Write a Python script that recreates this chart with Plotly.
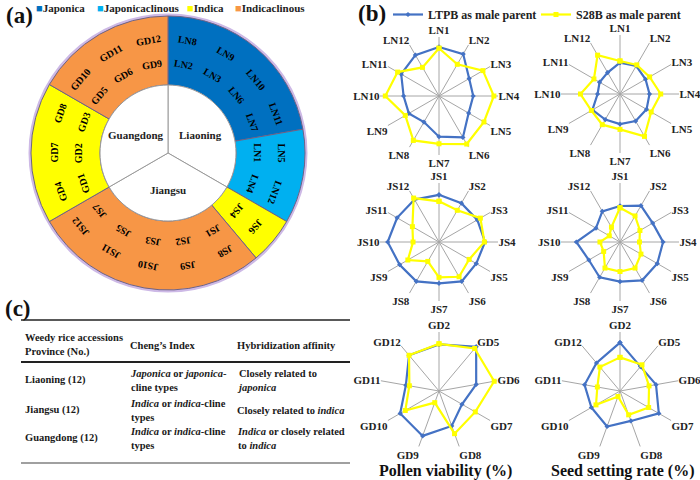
import math
import plotly.graph_objects as go

FONT = "Liberation Serif"
W, H = 700, 480

# ---------------- Panel (a) data ----------------
ring_types = ["Japonica", "Japonicaclinous", "Indica", "Indicaclinous", "Indica", "Indicaclinous"]
ring_counts = [8, 4, 2, 10, 6, 6]
ring_inner_labels = [["LN2", "LN3", "LN6", "LN7"], ["LN1", "LN4"], ["JS4"],
                     ["JS1", "JS2", "JS3", "JS5", "JS7"], ["GD1", "GD2", "GD3"], ["GD5", "GD6", "GD9"]]
ring_outer_labels = [["LN8", "LN9", "LN10", "LN11"], ["LN5", "LN12"], ["JS6"],
                     ["JS8", "JS9", "JS10", "JS11", "JS12"], ["GD4", "GD7", "GD8"], ["GD10", "GD11", "GD12"]]
legend_types = ["Japonica", "Japonicaclinous", "Indica", "Indicaclinous"]
type_colors = ["#0070C0", "#00B0F0", "#FFFF00", "#F79646"]
provinces = ["Liaoning", "Jiangsu", "Guangdong"]
province_counts = [12, 12, 12]

# ---------------- Panel (b) data ----------------
ln_axes = ["LN1", "LN2", "LN3", "LN4", "LN5", "LN6", "LN7", "LN8", "LN9", "LN10", "LN11", "LN12"]
js_axes = ["JS1", "JS2", "JS3", "JS4", "JS5", "JS6", "JS7", "JS8", "JS9", "JS10", "JS11", "JS12"]
gd_axes = ["GD2", "GD5", "GD6", "GD7", "GD8", "GD9", "GD10", "GD11", "GD12"]

pollen_ln_ltpb = [83, 82, 59, 58, 58, 81, 69, 51, 59, 60, 74, 80]
pollen_ln_s28b = [81, 62, 86, 93, 88, 94, 81, 87, 66, 91, 81, 56]
seed_ln_ltpb = [53, 55, 50, 50, 52, 53, 51, 50, 54, 38, 40, 42]
seed_ln_s28b = [56, 57, 58, 69, 61, 83, 60, 60, 56, 67, 51, 76]
pollen_js_ltpb = [80, 76, 75, 78, 73, 77, 70, 77, 77, 87, 82, 83]
pollen_js_s28b = [69, 62, 81, 77, 59, 68, 60, 38, 61, 44, 52, 86]
seed_js_ltpb = [61, 71, 64, 73, 73, 75, 67, 69, 61, 74, 47, 60]
seed_js_s28b = [58, 51, 39, 33, 41, 51, 50, 51, 32, 34, 21, 29]
pollen_gd_ltpb = [79, 98, 64, 45, 63, 81, 76, 57, 79]
pollen_gd_s28b = [80, 94, 95, 71, 77, 21, 66, 51, 79]
seed_gd_ltpb = [82, 54, 62, 76, 54, 64, 56, 61, 62]
seed_gd_s28b = [57, 58, 50, 56, 43, 10, 47, 39, 53]

series_names = ["LTPB as male parent", "S28B as male parent"]
series_colors = ["#4472C4", "#FFFF00"]
bottom_titles = ["Pollen viability (%)", "Seed setting rate (%)"]

# ---------------- Panel (c) data ----------------
table_header = ["Weedy rice accessions<br>Province (No.)", "Cheng’s Index", "Hybridization affinity"]
table_rows = [
    ["Liaoning (12)", "<i>Japonica</i> or <i>japonica</i>-<br>cline types", "Closely related to<br><i>japonica</i>"],
    ["Jiangsu (12)", "<i>Indica</i> or <i>indica</i>-cline<br>types", "Closely related to <i>indica</i>"],
    ["Guangdong (12)", "<i>Indica</i> or <i>indica</i>-cline<br>types", "<i>Indica</i> or closely related<br>to <i>indica</i>"],
]


def px_x(p):
    return p / W


def px_y(p):
    return 1 - p / H


fig = go.Figure()
annotations = []
shapes = []

# ---------------- Panel (a) ----------------
cx, cy, R = 168, 153, 137
r_in = 68
color_of = dict(zip(legend_types, type_colors))

shapes.append(dict(type="circle", xref="paper", yref="paper", layer="below",
                   x0=px_x(cx - R - 1), x1=px_x(cx + R + 1), y0=px_y(cy + R + 1), y1=px_y(cy - R - 1),
                   line=dict(color="#cdb9e6", width=3)))

fig.add_trace(go.Pie(
    values=ring_counts, labels=[f"{t}-{i}" for i, t in enumerate(ring_types)],
    marker=dict(colors=[color_of[t] for t in ring_types], line=dict(color="#6d6286", width=1)),
    hole=r_in / R, sort=False, direction="clockwise", rotation=0, textinfo="none",
    hoverinfo="skip", showlegend=False,
    domain=dict(x=[px_x(cx - R), px_x(cx + R)], y=[px_y(cy + R), px_y(cy - R)])))

fig.add_trace(go.Pie(
    values=province_counts, labels=provinces,
    marker=dict(colors=["white"] * 3, line=dict(color="#9a9a9a", width=1)),
    sort=False, direction="clockwise", rotation=0, textinfo="none",
    hoverinfo="skip", showlegend=False,
    domain=dict(x=[px_x(cx - r_in), px_x(cx + r_in)], y=[px_y(cy + r_in), px_y(cy - r_in)])))

# overlay axes for ring labels
fig.update_layout(
    xaxis=dict(domain=[px_x(cx - R), px_x(cx + R)], range=[-1, 1], visible=False, fixedrange=True),
    yaxis=dict(domain=[px_y(cy + R), px_y(cy - R)], range=[-1, 1], visible=False, fixedrange=True),
)


def wrap(a):
    return ((a + 180) % 360) - 180


start = 0
for cnt, inner, outer in zip(ring_counts, ring_inner_labels, ring_outer_labels):
    span = cnt * 10
    for labels, rr in ((inner, 0.655), (outer, 0.835)):
        n = len(labels)
        for i, lab in enumerate(labels):
            th = start + span * (i + 0.5) / n
            t = math.radians(th)
            annotations.append(dict(x=rr * math.sin(t), y=rr * math.cos(t), xref="x", yref="y",
                                    xanchor="center", yanchor="middle",
                                    text=f"<b>{lab}</b>", showarrow=False, textangle=wrap(th),
                                    font=dict(family=FONT, size=10, color="black")))
    start += span

pstart = 0
for name, cnt in zip(provinces, province_counts):
    th = pstart + cnt * 10 / 2
    t = math.radians(th)
    annotations.append(dict(x=0.27 * math.sin(t), y=0.27 * math.cos(t), xref="x", yref="y",
                            xanchor="center", yanchor="middle",
                            text=f"<b>{name}</b>", showarrow=False,
                            font=dict(family=FONT, size=11, color="#222")))
    pstart += cnt * 10

# legend of panel (a)
leg_x = [34, 95, 185, 233]
for name, col, lx in zip(legend_types, type_colors, leg_x):
    annotations.append(dict(x=px_x(lx), y=px_y(8), xref="paper", yref="paper", xanchor="left",
                            yanchor="middle", showarrow=False,
                            text=f'<span style="color:{col}">■</span><b>{name}</b>',
                            font=dict(family=FONT, size=11, color="#222")))

# ---------------- Panel (b) ----------------
radars = [
    (ln_axes, pollen_ln_ltpb, pollen_ln_s28b, (439, 96)),
    (ln_axes, seed_ln_ltpb, seed_ln_s28b, (620, 94)),
    (js_axes, pollen_js_ltpb, pollen_js_s28b, (439, 242)),
    (js_axes, seed_js_ltpb, seed_js_s28b, (620, 242)),
    (gd_axes, pollen_gd_ltpb, pollen_gd_s28b, (439, 391)),
    (gd_axes, seed_gd_ltpb, seed_gd_s28b, (620, 391)),
]
rr = 59
layout_polars = {}
for k, (axes, v1, v2, (pcx, pcy)) in enumerate(radars):
    pname = "polar" if k == 0 else f"polar{k + 1}"
    cats = [f"<b>{a}</b>" for a in axes]
    for j, (vals, nm, col) in enumerate(zip((v1, v2), series_names, series_colors)):
        fig.add_trace(go.Scatterpolar(
            r=list(vals) + [vals[0]], theta=cats + [cats[0]], subplot=pname,
            mode="lines+markers", name=f"<b>{nm}</b>", showlegend=(k == 0), legendgroup=nm,
            line=dict(color=col, width=2.2),
            marker=dict(color=col, size=5 if j else 4, symbol="square" if j else "diamond"),
            hoverinfo="skip"))
    layout_polars[pname] = dict(
        domain=dict(x=[px_x(pcx - rr), px_x(pcx + rr)], y=[px_y(pcy + rr), px_y(pcy - rr)]),
        bgcolor="rgba(0,0,0,0)",
        radialaxis=dict(range=[0, 100], showgrid=False, showline=False, showticklabels=False, ticks=""),
        angularaxis=dict(type="category", categoryorder="array", categoryarray=cats,
                         direction="clockwise", rotation=90, showline=False,
                         gridcolor="#a6a6a6", gridwidth=1, ticks="", ticklen=0,
                         tickfont=dict(family=FONT, size=11, color="#222")),
    )
fig.update_layout(**layout_polars)

for title, xx in zip(bottom_titles, [445, 623]):
    annotations.append(dict(x=px_x(xx), y=px_y(471), xref="paper", yref="paper", showarrow=False,
                            xanchor="center", yanchor="middle",
                            text=f"<b>{title}</b>", font=dict(family=FONT, size=16, color="#111")))

# ---------------- Panel (c) ----------------
col_x = [23, 128, 235]
for txt, xx in zip(table_header, col_x):
    annotations.append(dict(x=px_x(xx), y=px_y(345), xref="paper", yref="paper", xanchor="left",
                            yanchor="middle", align="left", showarrow=False, text=f"<b>{txt}</b>",
                            font=dict(family=FONT, size=10.5, color="#1a1a1a")))
for row, yy in zip(table_rows, [380, 410, 438]):
    for txt, xx in zip(row, col_x):
        annotations.append(dict(x=px_x(xx), y=px_y(yy), xref="paper", yref="paper", xanchor="left",
                                yanchor="middle", align="left", showarrow=False, text=f"<b>{txt}</b>",
                                font=dict(family=FONT, size=10.5, color="#1a1a1a")))
for yy, wd, col in [(320, 1.3, "#222"), (362, 2, "#222"), (463, 1.5, "#808080")]:
    shapes.append(dict(type="line", xref="paper", yref="paper", x0=px_x(21), x1=px_x(350),
                       y0=px_y(yy), y1=px_y(yy), line=dict(color=col, width=wd)))

# panel letters
for lab, xx, yy in [("(a)", 4, 15), ("(b)", 356, 13), ("(c)", 3, 308)]:
    annotations.append(dict(x=px_x(xx), y=px_y(yy), xref="paper", yref="paper", xanchor="left",
                            yanchor="middle", showarrow=False, text=f"<b>{lab}</b>",
                            font=dict(family=FONT, size=23, color="#111")))

fig.update_layout(
    width=W, height=H, autosize=False,
    margin=dict(l=0, r=0, t=0, b=0),
    paper_bgcolor="white", plot_bgcolor="white",
    showlegend=True,
    legend=dict(orientation="h", x=px_x(388), y=px_y(0), xanchor="left", yanchor="top",
                font=dict(family=FONT, size=12, color="#222"),
                bgcolor="rgba(0,0,0,0)", itemwidth=30, tracegroupgap=0,
                entrywidth=103, entrywidthmode="pixels"),
    annotations=annotations,
    shapes=shapes,
)

fig.write_html("out.html", config={"displayModeBar": False},
               post_script="document.body.style.margin='0px';")
